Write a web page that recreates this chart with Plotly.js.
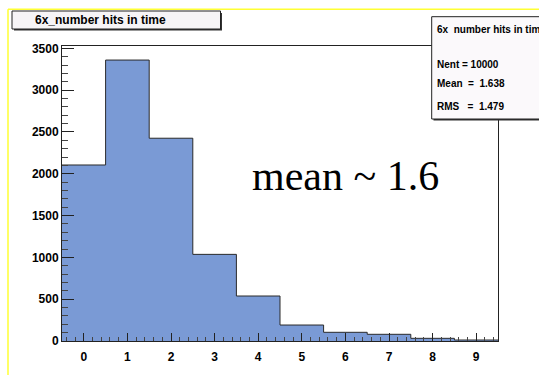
<!DOCTYPE html>
<html>
<head>
<meta charset="utf-8">
<script src="https://cdn.plot.ly/plotly-3.0.1.min.js"></script>
<style>html,body{margin:0;padding:0;background:#fff;}#chart{width:539px;height:375px;}</style>
</head>
<body>
<div id="chart"></div>
<script>
// Data
const bins = [0, 1, 2, 3, 4, 5, 6, 7, 8, 9];
const counts = [2105, 3360, 2425, 1036, 538, 191, 104, 80, 32, 12];
const histTitle = "6x_number hits in time";
const statsLines = ["6x  number hits in time", "Nent = 10000", "Mean  =  1.638", "RMS   =  1.479"];
const noteText = "mean ~ 1.6";

// Bin edges for the step outline (derived from bin centres)
const edges = bins.map(b => b - 0.5).concat([bins[bins.length - 1] + 0.5]);
const stepY = counts.concat([counts[counts.length - 1]]);

const L = 62, T = 46, PW = 436, PH = 295;
const px = x => (x - L) / PW;
const py = y => (T + PH - y) / PH;

const trace = {
  type: 'scatter', mode: 'lines',
  x: edges, y: stepY,
  line: {shape: 'hv', color: '#2a2a2a', width: 1},
  fill: 'tozeroy', fillcolor: '#7a9ad5',
  hoverinfo: 'skip'
};

const tickFont = {family: 'Liberation Sans, Arial, sans-serif', size: 12, weight: 'bold', color: '#000'};
const boxFont = {family: 'Liberation Sans, Arial, sans-serif', size: 10, weight: 'bold', color: '#000'};

const shapes = [
  // yellow canvas frame
  {type: 'line', xref: 'paper', yref: 'paper', x0: px(8), x1: px(545), y0: py(9.3), y1: py(9.3), line: {color: '#ffff33', width: 1.5}, layer: 'above'},
  {type: 'line', xref: 'paper', yref: 'paper', x0: px(8), x1: px(8), y0: py(9.3), y1: py(380), line: {color: '#ffff33', width: 1.5}, layer: 'above'},
  // title pave shadow + box
  {type: 'rect', xref: 'paper', yref: 'paper', x0: px(14), x1: px(222), y0: py(13), y1: py(30.5), fillcolor: '#333', line: {width: 0}, layer: 'above'},
  {type: 'rect', xref: 'paper', yref: 'paper', x0: px(12), x1: px(220.5), y0: py(11), y1: py(29), fillcolor: '#f6f4f6', line: {color: '#222', width: 1}, layer: 'above'},
  // stats pave shadow + box
  {type: 'rect', xref: 'paper', yref: 'paper', x0: px(433.5), x1: px(560), y0: py(18.5), y1: py(120.5), fillcolor: '#333', line: {width: 0}, layer: 'above'},
  {type: 'rect', xref: 'paper', yref: 'paper', x0: px(431.7), x1: px(560), y0: py(16.7), y1: py(119), fillcolor: '#fbf9fb', line: {color: '#222', width: 1}, layer: 'above'}
];

const statsY = [30, 64, 83, 107];
const annotations = [
  {xref: 'paper', yref: 'paper', x: px(33), y: py(20), xanchor: 'left', yanchor: 'middle', text: histTitle, showarrow: false, font: {family: 'Liberation Sans, Arial, sans-serif', size: 12, weight: 'bold', color: '#000'}},
  {xref: 'paper', yref: 'paper', x: px(250), y: py(176), xanchor: 'left', yanchor: 'middle', text: noteText, showarrow: false, font: {family: 'Liberation Serif, Times New Roman, serif', size: 42, color: '#000'}}
].concat(statsLines.map((t, i) => ({
  xref: 'paper', yref: 'paper', x: px(435), y: py(statsY[i]), xanchor: 'left', yanchor: 'middle',
  text: t, showarrow: false, font: boxFont
})));

const layout = {
  width: 539, height: 375,
  margin: {l: L, r: 539 - L - PW, t: T, b: 375 - T - PH, pad: 0},
  paper_bgcolor: '#fff', plot_bgcolor: '#fff',
  showlegend: false,
  xaxis: {
    range: [-0.5, 9.5], tickvals: bins, ticktext: bins.map(String),
    ticks: 'inside', ticklen: 8, tickcolor: '#222', tickwidth: 1,
    minor: {dtick: 0.2, tick0: 0, ticks: 'inside', ticklen: 4, tickcolor: '#444', tickwidth: 1},
    showline: true, linecolor: '#222', linewidth: 1, mirror: true,
    showgrid: false, zeroline: false, tickfont: tickFont, ticklabelstandoff: 5
  },
  yaxis: {
    range: [0, 3528], tick0: 0, dtick: 500,
    ticks: 'inside', ticklen: 12, tickcolor: '#222', tickwidth: 1,
    minor: {dtick: 100, ticks: 'inside', ticklen: 6, tickcolor: '#444', tickwidth: 1},
    showline: true, linecolor: '#222', linewidth: 1, mirror: true,
    showgrid: false, zeroline: false, tickfont: tickFont
  },
  shapes: shapes,
  annotations: annotations
};

Plotly.newPlot('chart', [trace], layout, {staticPlot: true, displayModeBar: false});
</script>
</body>
</html>
